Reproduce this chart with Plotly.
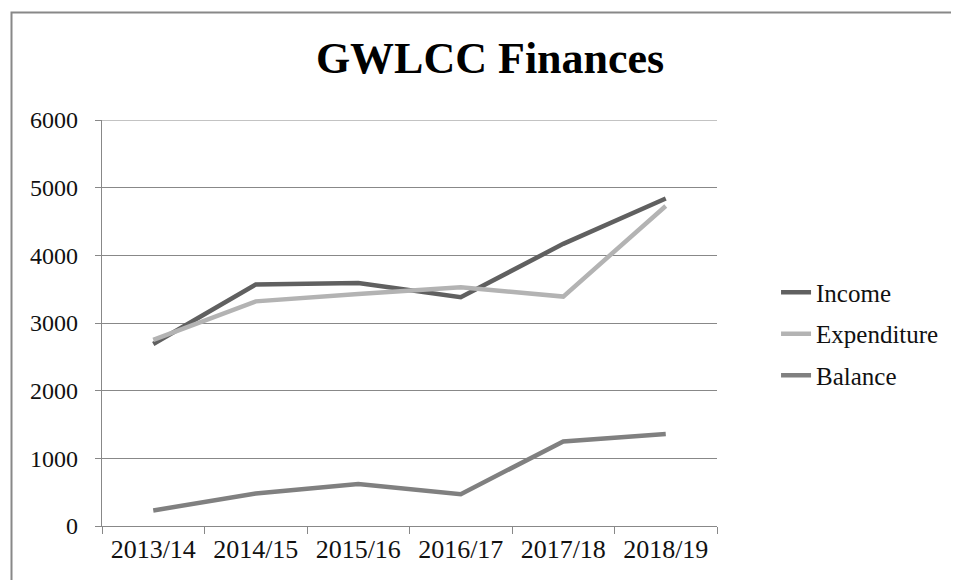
import plotly.graph_objects as go

years = ["2013/14", "2014/15", "2015/16", "2016/17", "2017/18", "2018/19"]
income = [2690, 3570, 3590, 3380, 4170, 4840]
expenditure = [2750, 3320, 3430, 3530, 3390, 4730]
balance = [230, 480, 620, 470, 1250, 1360]
y_ticks = [0, 1000, 2000, 3000, 4000, 5000, 6000]
y_max = 6000

series = [
    ("Income", income, "#606060"),
    ("Expenditure", expenditure, "#b3b3b3"),
    ("Balance", balance, "#808080"),
]

FONT = "Liberation Serif, Times New Roman, serif"
GRID = "#888888"

fig = go.Figure()
for name, vals, color in series:
    fig.add_trace(go.Scatter(
        x=years, y=vals, name=name, mode="lines",
        line=dict(color=color, width=4.5),
        legendgroup=name,
    ))

fig.update_layout(
    width=959, height=580,
    margin=dict(l=94, r=250, t=112, b=62),
    paper_bgcolor="white", plot_bgcolor="white",
    font=dict(family=FONT, size=24, color="#111111"),
    title=dict(
        text="<b>GWLCC Finances</b>",
        font=dict(family=FONT, size=44, color="#000000"),
        x=0.631, xref="paper", xanchor="center",
        y=1 - 50 / 580, yref="container", yanchor="middle",
    ),
    showlegend=True,
    legend=dict(
        x=1.096, xanchor="left", y=0.632, yanchor="top",
        font=dict(family=FONT, size=25, color="#111111"),
        tracegroupgap=6, traceorder="grouped",
        bgcolor="rgba(0,0,0,0)", itemwidth=30,
    ),
    xaxis=dict(
        type="category", range=[-0.5, 5.5],
        tickson="boundaries", ticks="outside", ticklen=7, tickcolor=GRID, tickwidth=1.2,
        showline=True, linecolor=GRID, linewidth=1.2,
        showgrid=False, zeroline=False,
        tickfont=dict(family=FONT, size=26, color="#111111"),
    ),
    yaxis=dict(
        range=[0, y_max], tickvals=y_ticks,
        ticks="outside", ticklen=6, tickcolor=GRID, tickwidth=1.2,
        showline=True, linecolor=GRID, linewidth=1.2,
        showgrid=True, gridcolor=GRID, gridwidth=1.2,
        zeroline=False, ticklabelstandoff=12,
        tickfont=dict(family=FONT, size=24, color="#111111"),
    ),
    shapes=[
        dict(
            type="rect", xref="paper", yref="paper",
            x0=(3.5 - 94) / 615, x1=(975 - 94) / 615,
            y0=(518 - 600) / 406, y1=(518 - 4.5) / 406,
            line=dict(color="#888888", width=2), fillcolor="rgba(0,0,0,0)", layer="below",
        ),
        dict(
            type="line", xref="paper", yref="y",
            x0=0, x1=1, y0=y_max, y1=y_max,
            line=dict(color=GRID, width=1.2), layer="below",
        ),
    ],
)

fig.write_html("out.html")
